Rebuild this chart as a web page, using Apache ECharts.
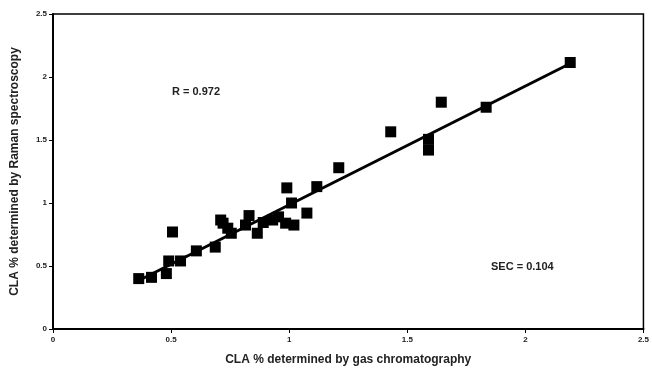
<!DOCTYPE html>
<html>
<head>
<meta charset="utf-8">
<script src="https://cdn.jsdelivr.net/npm/echarts@6/dist/echarts.min.js"></script>
<style>
  html, body { margin: 0; padding: 0; background: #fff; }
  #chart { width: 652px; height: 371px; }
</style>
</head>
<body>
<div id="chart"></div>
<script>
  // CLA % by gas chromatography (x) vs Raman spectroscopy (y)
  const gcValues = [
    0.363, 0.417, 0.48, 0.49, 0.506, 0.54, 0.607, 0.687, 0.71, 0.72,
    0.74, 0.755, 0.815, 0.83, 0.865, 0.89, 0.93, 0.955, 0.985, 0.99,
    1.01, 1.02, 1.075, 1.117, 1.21, 1.43, 1.59, 1.59, 1.644, 1.834, 2.19
  ];
  const ramanValues = [
    0.40, 0.41, 0.44, 0.54, 0.77, 0.54, 0.62, 0.65, 0.865, 0.84,
    0.80, 0.76, 0.825, 0.90, 0.76, 0.845, 0.865, 0.89, 0.84, 1.12,
    1.0, 0.825, 0.92, 1.13, 1.28, 1.565, 1.505, 1.42, 1.80, 1.76, 2.115
  ];
  const fitRange = [0.363, 2.19];
  const fitSlope = 0.9425;
  const fitIntercept = 0.043;
  const axisTicks = [0, 0.5, 1, 1.5, 2, 2.5];
  const rText = 'R = 0.972';
  const secText = 'SEC = 0.104';

  const chart = echarts.init(document.getElementById('chart'));

  const points = gcValues.map((x, i) => [x, ramanValues[i]]);
  const fitLine = fitRange.map(x => [x, fitSlope * x + fitIntercept]);

  const axisCommon = {
    type: 'value',
    min: axisTicks[0],
    max: axisTicks[axisTicks.length - 1],
    interval: 0.5,
    nameLocation: 'middle',
    nameTextStyle: { fontFamily: 'Liberation Sans', fontWeight: 'bold', fontSize: 12, color: '#222' },
    axisLine: { show: true, lineStyle: { color: '#000', width: 2 } },
    axisTick: { show: true, inside: false, length: 4, lineStyle: { color: '#000', width: 1 } },
    axisLabel: { fontFamily: 'Liberation Sans', fontWeight: 'bold', fontSize: 8, color: '#222' },
    splitLine: { show: false }
  };

  chart.setOption({
    animation: false,
    backgroundColor: '#fff',
    grid: {
      left: 53, right: 5, top: 14, bottom: 39,
      show: true, borderColor: '#000', borderWidth: 1.5, backgroundColor: 'transparent'
    },
    xAxis: Object.assign({}, axisCommon, {
      name: 'CLA % determined by gas chromatography',
      nameGap: 25,
      axisLabel: Object.assign({}, axisCommon.axisLabel, { margin: 7 })
    }),
    yAxis: Object.assign({}, axisCommon, {
      name: 'CLA % determined by Raman spectroscopy',
      nameGap: 32,
      nameRotate: 90,
      axisLabel: Object.assign({}, axisCommon.axisLabel, { margin: 6 })
    }),
    series: [
      {
        type: 'line',
        data: fitLine,
        symbol: 'none',
        lineStyle: { color: '#000', width: 3 },
        z: 2
      },
      {
        type: 'scatter',
        data: points,
        symbol: 'rect',
        symbolSize: 11,
        itemStyle: { color: '#000', opacity: 1 },
        z: 3
      }
    ],
    graphic: [
      {
        type: 'text', left: 172, top: 86,
        style: { text: rText, fontFamily: 'Liberation Sans', fontWeight: 'bold', fontSize: 11, fill: '#222' }
      },
      {
        type: 'text', left: 491, top: 261,
        style: { text: secText, fontFamily: 'Liberation Sans', fontWeight: 'bold', fontSize: 11, fill: '#222' }
      }
    ]
  });
</script>
</body>
</html>
